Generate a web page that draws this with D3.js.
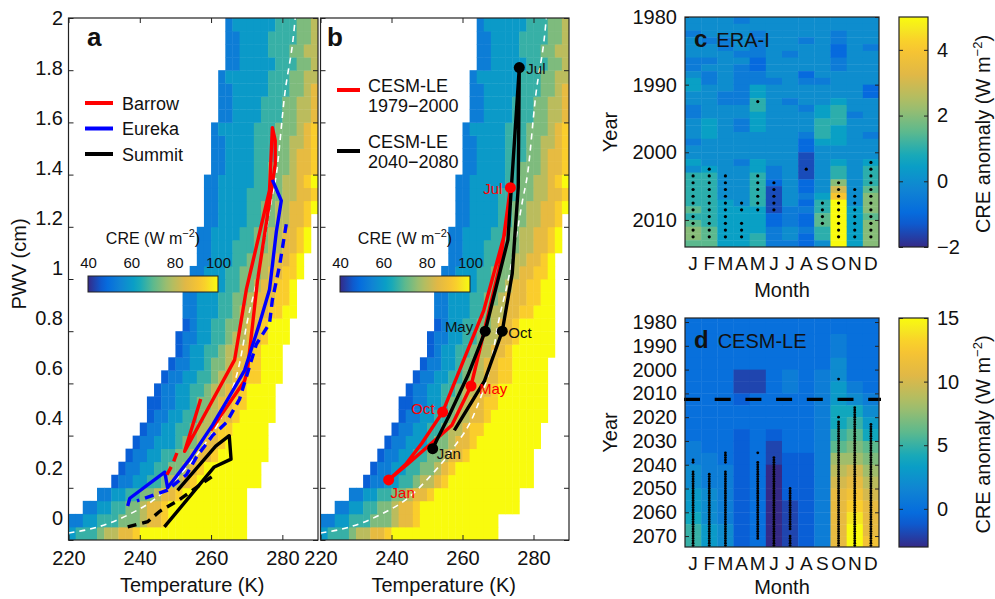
<!DOCTYPE html>
<html>
<head>
<meta charset="utf-8">
<script src="https://cdn.jsdelivr.net/npm/d3@7"></script>
<style>
  body { margin: 0; background: #fff; }
  #root { width: 995px; height: 599px; }
</style>
</head>
<body>
<div id="root"></div>
<script>
const FONT = '"Liberation Sans", Arial, Helvetica, sans-serif';

// ---------------- panels a, b ----------------
const tempTicks = [220, 240, 260, 280];
const pwvTicks = [0, 0.2, 0.4, 0.6, 0.8, 1, 1.2, 1.4, 1.6, 1.8, 2];
const creTicks = [40, 60, 80, 100];
const tempBin = 2;     // K
const pwvBin = 0.05;   // cm

// first 2 K bin of every PWV row, bottom row first
const rowStartT = [220, 220, 224, 228, 232, 234, 236, 238, 240, 242,
                   242, 244, 246, 248, 250, 250, 252, 252, 252, 254,
                   254, 256, 256, 256, 258, 258, 258, 258, 260, 260,
                   260, 260, 262, 262, 262, 262, 264, 264, 264, 264];

// CRE class per bin: 0 = 40 ... 9 = 100 W m-2 (bottom row first)
const creRowsA = [
  '3444566778 999999999999999',
  '22334445556778 99999999999',
  '223344556778 99999999999',
  '223344556778 999999999',
  '122334456678 999999999',
  '122334455678 99999999',
  '1223344556778 9999999',
  '1223334556778 999999',
  '1223344566788 99999',
  '1223344566778 99999',
  '11223345567788 9999',
  '1223344566778 9999',
  '12233445667788 999',
  '1223345567788 999',
  '123344566778 999',
  '1223344566778 999',
  '123344556778 999',
  '22333445667788 99',
  '2233344556777889',
  '223334455677889',
  '2233344555677889',
  '223334455667789',
  '2233344455667789',
  '2233334455667789',
  '223333445566778',
  '2233334455667789',
  '2233334445566778',
  '2233333445566789',
  '223333445556778',
  '223333444556778',
  '223333444556678',
  '233333444555678',
  '22333344455667',
  '22333344455667',
  '22333334445567',
  '23333334445566',
  '2233333444556',
  '2233334445566',
  '2233334444556',
  '2333333444556'
];

const creRowsB = [
  '3444566778 999999999999999',
  '22334445556778 99999999999',
  '223344556778 99999999999 999',
  '223344556778 999999999 999',
  '122334456678 999999999 999',
  '122334455678 99999999 999',
  '1223344556778 9999999 99',
  '1223334556778 999999 999',
  '1223344566788 99999 999',
  '1223344566778 99999 999',
  '11223345567788 9999 999',
  '1223344566778 9999 999',
  '12233445667788 999 99',
  '1223345567788 999 99',
  '123344566778 999 999',
  '1223344566778 999 99',
  '123344556778 999 99',
  '22333445667788 99 9',
  '2233344556777889 9',
  '223334455677889 9',
  '2233344555677889',
  '223334455667789',
  '2233344455667789',
  '2233334455667789',
  '223333445566778',
  '2233334455667789',
  '2233334445566778',
  '2233333445566789',
  '223333445556778',
  '223333444556778',
  '223333444556678',
  '233333444555678',
  '22333344455667',
  '22333344455667',
  '22333334445567',
  '23333334445566',
  '2233333444556',
  '2233334445566',
  '2233334444556',
  '2333333444556'
];

// saturation curve (T K, PWV cm)
const ccCurve = [[220, 0.027], [228.3, 0.05], [236.7, 0.096], [245, 0.165], [250.6, 0.24],
  [257, 0.345], [263.8, 0.5], [268.2, 0.69], [270.2, 0.84], [272.7, 0.985], [275, 1.15],
  [276.9, 1.3], [278.3, 1.4], [280.6, 1.7], [283.4, 1.97], [283.6, 2.0]];

const barrowObs = [[257.1, 0.54], [252.6, 0.34], [266.6, 0.69], [269.9, 0.96], [276.4, 1.34],
  [277.2, 1.58], [278.0, 1.53], [278.0, 1.44], [276.9, 1.34], [273.0, 0.99], [270.2, 0.65],
  [269.4, 0.61], [259.9, 0.42]];
const barrowEra = [[247.6, 0.25], [249.2, 0.29], [250.6, 0.34]];
const eurekaObs = [[277.2, 1.38], [279.7, 1.30], [278.3, 1.18], [276.4, 0.96], [273.6, 0.83],
  [269.4, 0.65], [266.0, 0.57], [260.4, 0.44], [254.0, 0.31], [250.6, 0.25], [247.8, 0.20],
  [247.0, 0.26], [237.2, 0.16], [236.6, 0.13]];
const eurekaEra = [[281.1, 1.21], [279.2, 1.05], [277.2, 0.92], [276.4, 0.83], [272.7, 0.75],
  [268.0, 0.54], [264.3, 0.45], [260.4, 0.40], [256.0, 0.32], [253.1, 0.25], [247.6, 0.19],
  [239.2, 0.15]];
const summitObs = [[246.9, 0.05], [260.9, 0.28], [265.6, 0.31], [265.1, 0.40], [261.3, 0.36],
  [250.6, 0.19]];
const summitEra = [[236.6, 0.05], [242.2, 0.07], [245.6, 0.11], [250.6, 0.15], [256.8, 0.21],
  [261.0, 0.25]];

const stations = ['Barrow', 'Eureka', 'Summit'];
const stationColors = ['#ff0000', '#0000ff', '#000000'];

// CESM-LE monthly climatology, Jan..Dec (T K, PWV cm)
const monthNames = ['Jan', 'Feb', 'Mar', 'Apr', 'May', 'Jun', 'Jul', 'Aug', 'Sep', 'Oct', 'Nov', 'Dec'];
const cesmEarly = [[239.2, 0.23], [244.5, 0.29], [249.5, 0.35], [257.0, 0.44], [262.4, 0.59],
  [270.5, 1.05], [273.5, 1.35], [271.8, 1.17], [266.0, 0.88], [254.4, 0.49], [248.5, 0.37],
  [244.0, 0.29]];
const cesmLate = [[251.6, 0.35], [253.0, 0.39], [256.0, 0.47], [261.5, 0.63], [266.4, 0.80],
  [272.8, 1.15], [276.0, 1.81], [275.7, 1.35], [274.0, 1.02], [271.2, 0.80], [266.2, 0.61],
  [257.7, 0.42]];
const markedMonths = [0, 4, 6, 9];

// ---------------- panels c, d ----------------
const monthLetters = ['J', 'F', 'M', 'A', 'M', 'J', 'J', 'A', 'S', 'O', 'N', 'D'];
const eraYearTicks = [1980, 1990, 2000, 2010];
const eraAnomTicks = [-2, 0, 2, 4];
// ERA-I CRE anomaly, one char per year 1980..2013, value = -2 + 0.5*k
const eraAnom = [
  '4434 4433 4554 4334 44344 546 66667 67887',
  '4443 4434 3344 4445 55444 456 66666 66777',
  '4443 3444 4443 3444 44444 444 44455 55555',
  '3444 4343 3333 3443 34444 344 44445 55555',
  '4433 3322 3355 6655 54444 556 66665 55566',
  '4444 4444 4344 4444 44444 433 21111 22333',
  '4444 4344 4444 3444 44444 444 44443 33443',
  '4443 4444 2344 4344 43221 111 22323 22322',
  '4444 4444 4344 4556 66544 444 44566 77664',
  '4433 2233 4444 5666 55544 566 8ACEE EEEEE',
  '4444 4444 4444 4434 44444 444 44445 55555',
  '4444 3444 4422 4444 43444 566 67888 78888'
];
const eraSig = [
  [[2003, 2012]], [[2002, 2012]], [[2003, 2012]], [[2007, 2008], [2010, 2012]],
  [[1992, 1992], [2003, 2008]], [[2004, 2008]], [], [[2002, 2002]],
  [[2007, 2010]], [[2004, 2012]], [[2005, 2012]], [[2001, 2012]]
];

const cesmYearTicks = [1980, 1990, 2000, 2010, 2020, 2030, 2040, 2050, 2060, 2070];
const cesmAnomTicks = [0, 5, 10, 15];
// CESM-LE CRE anomaly, 5-year blocks from 1975, value = -3 + k
const cesmAnom = [
  '3333333333 3445566788',
  '3333333333 3344455566',
  '3333333333 3334444455',
  '3333311233 2222222222',
  '3333311333 3333333333',
  '3333333333 2110000000',
  '3333344333 3322221111',
  '3333333333 3322222222',
  '3333344444 4444444444',
  '3344556677 89BCDEEEEE',
  '3333334578 9ABDEFGHII',
  '3333333456 79ABCDEEEF'
];
const cesmSig = [
  [[2038, 2039], [2043, 2074]], [[2044, 2074]], [[2035, 2039], [2043, 2074]], [],
  [[2035, 2035], [2039, 2071]], [[2037, 2074]], [[2050, 2067], [2070, 2074]], [], [],
  [[2004, 2004], [2020, 2020], [2022, 2074]], [[2016, 2074]], [[2023, 2074]]
];
const cesmSplitYear = 2012.5;

// ---------------- colours ----------------
const parulaPos = [0, 0.125, 0.25, 0.375, 0.5, 0.625, 0.75, 0.875, 0.94, 1];
const parulaHex = ['#352a87', '#0466e0', '#1084d3', '#08a5c3', '#5cb98e', '#a8be68',
                   '#e1b846', '#fbc72e', '#f5e423', '#f9fb0e'];
const parulaScale = d3.scaleLinear().domain(parulaPos).range(parulaHex).clamp(true);
const parula = t => parulaScale(t);
const creColor = d3.scaleSequential(parula).domain([40, 100]);
const eraColor = d3.scaleSequential(parula).domain([-2, 5]);
const cesmColor = d3.scaleSequential(parula).domain([-3, 15]);

const strip = s => s.replace(/ /g, '');
const intFmt = d3.format('d');

// ---------------- svg ----------------
const svg = d3.select('#root').append('svg')
  .attr('width', 995).attr('height', 599)
  .attr('font-family', FONT);
const defs = svg.append('defs');

const yP = d3.scaleLinear().domain([0, 2]).range([540, 18]);
// tick labels on the left axis sit slightly off their ticks in the original
const yLab = d3.scaleLinear().domain([0, 2]).range([517.5, 18]);
const xA = d3.scaleLinear().domain([220, 290]).range([68.5, 318]);
const xB = d3.scaleLinear().domain([220, 290]).range([320.5, 569]);

function gradient(id, horizontal) {
  const lg = defs.append('linearGradient').attr('id', id)
    .attr('x1', 0).attr('y1', horizontal ? 0 : 1)
    .attr('x2', horizontal ? 1 : 0).attr('y2', 0);
  d3.range(0, 21).forEach(i => {
    lg.append('stop').attr('offset', i / 20).attr('stop-color', parula(i / 20));
  });
}
gradient('gradH', true);
gradient('gradV', false);

function creCells(rows) {
  const cells = [];
  rows.forEach((row, r) => {
    strip(row).split('').forEach((c, i) => {
      cells.push({ t0: rowStartT[r] + tempBin * i, p0: r * pwvBin, cre: 40 + (+c) * 60 / 9 });
    });
  });
  return cells;
}

function styleAxis(g, size) {
  g.attr('font-family', FONT).attr('font-size', size).attr('color', '#222');
  g.select('.domain').remove();
  g.selectAll('text').attr('fill', '#111');
}

function tempPanel(x, rows, id) {
  const [x0, x1] = x.range();
  defs.append('clipPath').attr('id', id).append('rect')
    .attr('x', x0).attr('y', yP(2)).attr('width', x1 - x0).attr('height', yP(0) - yP(2));
  const g = svg.append('g');
  const plot = g.append('g').attr('clip-path', `url(#${id})`);

  plot.selectAll('.cell')
    .data(creCells(rows))
    .enter()
    .append('rect')
      .attr('class', 'cell')
      .attr('x', d => x(d.t0))
      .attr('y', d => yP(d.p0 + pwvBin))
      .attr('width', d => x(Math.min(d.t0 + tempBin, 290)) - x(d.t0) + 0.4)
      .attr('height', d => yP(d.p0) - yP(d.p0 + pwvBin) + 0.4)
      .attr('fill', d => creColor(d.cre));

  const line = d3.line().x(d => x(d[0])).y(d => yP(d[1]));
  plot.append('path').datum(ccCurve)
    .attr('d', line.curve(d3.curveMonotoneX))
    .attr('fill', 'none').attr('stroke', '#fff')
    .attr('stroke-width', 1.6).attr('stroke-dasharray', '6,5');
  line.curve(d3.curveLinear);

  // ticks on all four sides, pointing in
  g.append('g').attr('transform', `translate(0,${yP(0)})`)
    .call(d3.axisBottom(x).tickValues(tempTicks).tickSizeInner(-5).tickSizeOuter(0).tickPadding(11))
    .call(a => styleAxis(a, 20));
  g.append('g').attr('transform', `translate(0,${yP(2)})`)
    .call(d3.axisTop(x).tickValues(tempTicks).tickSizeInner(-5).tickSizeOuter(0).tickFormat(''))
    .call(a => styleAxis(a, 20));
  g.append('g').attr('transform', `translate(${x0},0)`)
    .call(d3.axisLeft(yP).tickValues(pwvTicks).tickSizeInner(-5).tickSizeOuter(0).tickFormat(''))
    .call(a => styleAxis(a, 20));
  g.append('g').attr('transform', `translate(${x1},0)`)
    .call(d3.axisRight(yP).tickValues(pwvTicks).tickSizeInner(-5).tickSizeOuter(0).tickFormat(''))
    .call(a => styleAxis(a, 20));

  g.append('rect')
    .attr('x', x0).attr('y', yP(2)).attr('width', x1 - x0).attr('height', yP(0) - yP(2))
    .attr('fill', 'none').attr('stroke', '#222').attr('stroke-width', 1.2);

  g.append('text')
    .attr('x', (x0 + x1) / 2 - 1).attr('y', 592)
    .attr('text-anchor', 'middle').attr('font-size', 20).attr('fill', '#111')
    .text('Temperature (K)');

  // CRE colour bar inside the panel
  const cb = d3.scaleLinear().domain([40, 100]).range([x0 + 19.5, x0 + 149.5]);
  g.append('rect')
    .attr('x', cb(40)).attr('y', 276).attr('width', cb(100) - cb(40)).attr('height', 16)
    .attr('fill', 'url(#gradH)').attr('stroke', '#222').attr('stroke-width', 1);
  g.append('g').attr('transform', 'translate(0,276)')
    .call(d3.axisTop(cb).tickValues(creTicks).tickSize(0).tickPadding(8))
    .call(a => styleAxis(a, 15));
  const t = g.append('text')
    .attr('x', (cb(40) + cb(100)) / 2).attr('y', 244)
    .attr('text-anchor', 'middle').attr('font-size', 16).attr('fill', '#111');
  t.append('tspan').text('CRE (W m');
  t.append('tspan').attr('font-size', 11).attr('dy', -7).text('\u22122');
  t.append('tspan').attr('dy', 7).text(')');

  return { g, plot, line };
}

// ---- panel a ----
const pa = tempPanel(xA, creRowsA, 'clipA');
const obsSets = [barrowObs, eurekaObs, summitObs];
const eraSets = [barrowEra, eurekaEra, summitEra];
obsSets.forEach((d, i) => {
  pa.plot.append('path').datum(d).attr('d', pa.line)
    .attr('fill', 'none').attr('stroke', stationColors[i]).attr('stroke-width', 3.4)
    .attr('stroke-linejoin', 'round');
});
eraSets.forEach((d, i) => {
  pa.plot.append('path').datum(d).attr('d', pa.line)
    .attr('fill', 'none').attr('stroke', stationColors[i]).attr('stroke-width', 3.4)
    .attr('stroke-dasharray', '9,6');
});

pa.g.selectAll('.ylab')
  .data(pwvTicks)
  .enter()
  .append('text')
    .attr('x', 63).attr('y', d => yLab(d) + 7)
    .attr('text-anchor', 'end').attr('font-size', 20).attr('fill', '#111')
    .text(d => d);
pa.g.append('text')
  .attr('transform', 'translate(26,264) rotate(-90)')
  .attr('text-anchor', 'middle').attr('font-size', 20).attr('fill', '#111')
  .text('PWV (cm)');

stations.forEach((s, i) => {
  const y = 103 + i * 25.5;
  pa.g.append('line').attr('x1', 85).attr('x2', 113).attr('y1', y).attr('y2', y)
    .attr('stroke', stationColors[i]).attr('stroke-width', 4);
  pa.g.append('text').attr('x', 122).attr('y', y + 6.5)
    .attr('font-size', 18).attr('fill', '#111').text(s);
});
pa.g.append('text').attr('x', 87).attr('y', 46)
  .attr('font-size', 26).attr('font-weight', 'bold').attr('fill', '#111').text('a');

// ---- panel b ----
const pb = tempPanel(xB, creRowsB, 'clipB');
const periods = [
  { data: cesmEarly, color: '#ff0000', closed: true, name: ['CESM-LE', '1979\u22122000'] },
  { data: cesmLate, color: '#000000', closed: false, name: ['CESM-LE', '2040\u22122080'] }
];
periods.forEach(p => {
  const pts = p.closed ? p.data.concat([p.data[0]]) : p.data;
  pb.plot.append('path').datum(pts).attr('d', pb.line)
    .attr('fill', 'none').attr('stroke', p.color).attr('stroke-width', 3.4)
    .attr('stroke-linejoin', 'round');
});
periods.forEach(p => {
  pb.plot.selectAll(null)
    .data(markedMonths)
    .enter()
    .append('circle')
      .attr('cx', m => xB(p.data[m][0]))
      .attr('cy', m => yP(p.data[m][1]))
      .attr('r', 5.5)
      .attr('fill', p.color);
});

// month label placement next to the markers
const earlyLabelPos = { 0: [14, 18, 'middle'], 4: [8, 8, 'start'], 6: [-8, 6, 'end'], 9: [-8, 2, 'end'] };
const lateLabelPos = { 0: [4, 10, 'start'], 4: [-12, 1, 'end'], 6: [7, 6, 'start'], 9: [6, 7, 'start'] };
[[cesmEarly, earlyLabelPos, '#ff0000'], [cesmLate, lateLabelPos, '#111']].forEach(([data, pos, col]) => {
  markedMonths.forEach(m => {
    const [dx, dy, anchor] = pos[m];
    pb.g.append('text')
      .attr('x', xB(data[m][0]) + dx).attr('y', yP(data[m][1]) + dy)
      .attr('text-anchor', anchor).attr('font-size', 15).attr('fill', col)
      .text(monthNames[m]);
  });
});

periods.forEach((p, i) => {
  const y = 90 + i * 61;
  pb.g.append('line').attr('x1', 337).attr('x2', 360).attr('y1', y).attr('y2', y)
    .attr('stroke', p.color).attr('stroke-width', 4);
  pb.g.append('text').attr('x', 368).attr('y', y - 5 + 6.5 - (i ? 5 : 0))
    .attr('font-size', 18).attr('fill', '#111').text(p.name[0]);
  pb.g.append('text').attr('x', 368).attr('y', y + 15 + 6.5 - (i ? 5 : 0))
    .attr('font-size', 18).attr('fill', '#111').text(p.name[1]);
});
pb.g.append('text').attr('x', 327).attr('y', 46)
  .attr('font-size', 26).attr('font-weight', 'bold').attr('fill', '#111').text('b');

// ---------------- panels c, d ----------------
const xM = d3.scaleBand().domain(d3.range(12)).range([685, 879]).padding(0);

function anomPanel(o) {
  const g = svg.append('g');
  const [yTop, yBot] = [o.y.range()[0], o.y.range()[1]];
  defs.append('clipPath').attr('id', o.id).append('rect')
    .attr('x', 685).attr('y', yTop).attr('width', 194).attr('height', yBot - yTop);
  const plot = g.append('g').attr('clip-path', `url(#${o.id})`);

  plot.selectAll('.cell')
    .data(o.cells)
    .enter()
    .append('rect')
      .attr('x', d => xM(d.m))
      .attr('y', d => o.y(d.y0))
      .attr('width', xM.bandwidth() + 0.4)
      .attr('height', d => o.y(d.y1) - o.y(d.y0) + 0.4)
      .attr('fill', d => o.color(d.v));

  if (o.split) {
    g.append('line').attr('x1', 684).attr('x2', 881)
      .attr('y1', o.y(o.split)).attr('y2', o.y(o.split))
      .attr('stroke', '#000').attr('stroke-width', 3.2).attr('stroke-dasharray', '16,14.7');
  }

  plot.selectAll('.dot')
    .data(o.dots)
    .enter()
    .append('circle')
      .attr('cx', d => xM(d.m) + xM.bandwidth() / 2)
      .attr('cy', d => o.y(d.year + o.dotOffset))
      .attr('r', o.dotR)
      .attr('fill', '#000');

  g.append('g').attr('transform', 'translate(685,0)')
    .call(d3.axisLeft(o.y).tickValues(o.yTicks).tickFormat(intFmt)
      .tickSizeInner(-4).tickSizeOuter(0).tickPadding(8))
    .call(a => styleAxis(a, 20));
  g.append('g').attr('transform', 'translate(879,0)')
    .call(d3.axisRight(o.y).tickValues(o.yTicks).tickSizeInner(-4).tickSizeOuter(0).tickFormat(''))
    .call(a => styleAxis(a, 20));
  g.append('g').attr('transform', `translate(0,${yBot})`)
    .call(d3.axisBottom(xM).tickFormat(i => monthLetters[i]).tickSize(0).tickPadding(9.5))
    .call(a => styleAxis(a, 19));

  g.append('rect').attr('x', 685).attr('y', yTop).attr('width', 194).attr('height', yBot - yTop)
    .attr('fill', 'none').attr('stroke', '#222').attr('stroke-width', 1.2);

  g.append('text').attr('x', 782).attr('y', Math.min(yBot + 50, 594))
    .attr('text-anchor', 'middle').attr('font-size', 20).attr('fill', '#111').text('Month');
  g.append('text').attr('transform', `translate(617,${(yTop + yBot) / 2}) rotate(-90)`)
    .attr('text-anchor', 'middle').attr('font-size', 20).attr('fill', '#111').text('Year');

  const title = g.append('text').attr('x', 694).attr('y', o.titleY).attr('fill', '#111');
  title.append('tspan').attr('font-size', 24).attr('font-weight', 'bold').text(o.letter);
  title.append('tspan').attr('font-size', 20).attr('dx', 9).text(o.title);

  // colour bar
  const cb = d3.scaleLinear().domain(o.color.domain()).range([yBot, yTop]);
  g.append('rect').attr('x', 899).attr('y', yTop).attr('width', 29).attr('height', yBot - yTop)
    .attr('fill', 'url(#gradV)').attr('stroke', '#222').attr('stroke-width', 1.2);
  g.append('g').attr('transform', 'translate(928,0)')
    .call(d3.axisRight(cb).tickValues(o.cbTicks).tickFormat(intFmt)
      .tickSizeInner(-4).tickSizeOuter(0).tickPadding(9))
    .call(a => styleAxis(a, 20));
  g.append('g').attr('transform', 'translate(899,0)')
    .call(d3.axisLeft(cb).tickValues(o.cbTicks).tickSizeInner(-4).tickSizeOuter(0).tickFormat(''))
    .call(a => styleAxis(a, 20));
  const lab = g.append('text')
    .attr('transform', `translate(990,${(yTop + yBot) / 2 + 2}) rotate(-90)`)
    .attr('text-anchor', 'middle').attr('font-size', 20).attr('fill', '#111');
  lab.append('tspan').text('CRE anomaly (W m');
  lab.append('tspan').attr('font-size', 13).attr('dy', -8).text('\u22122');
  lab.append('tspan').attr('dy', 8).text(')');
}

function expandDots(sig) {
  const dots = [];
  sig.forEach((ranges, m) => ranges.forEach(([a, b]) => {
    d3.range(a, b + 1).forEach(year => dots.push({ m, year }));
  }));
  return dots;
}

const eraCells = [];
eraAnom.forEach((s, m) => strip(s).split('').forEach((c, i) => {
  eraCells.push({ m, y0: 1980 + i, y1: 1981 + i, v: -2 + 0.5 * parseInt(c, 36) });
}));
anomPanel({
  id: 'clipC', y: d3.scaleLinear().domain([1980, 2014]).range([17, 247]),
  cells: eraCells, color: eraColor, dots: expandDots(eraSig), dotOffset: 0.5, dotR: 1.6,
  yTicks: eraYearTicks, cbTicks: eraAnomTicks, letter: 'c', title: 'ERA-I', titleY: 47
});

const cesmCells = [];
cesmAnom.forEach((s, m) => strip(s).split('').forEach((c, i) => {
  cesmCells.push({ m, y0: 1975 + 5 * i, y1: 1980 + 5 * i, v: -3 + parseInt(c, 36) });
}));
anomPanel({
  id: 'clipD', y: d3.scaleLinear().domain([1978.3, 2074.6]).range([318, 547]),
  cells: cesmCells, color: cesmColor, dots: expandDots(cesmSig), dotOffset: 0, dotR: 1.4,
  yTicks: cesmYearTicks, cbTicks: cesmAnomTicks, letter: 'd', title: 'CESM-LE', titleY: 348,
  split: cesmSplitYear
});
</script>
</body>
</html>
